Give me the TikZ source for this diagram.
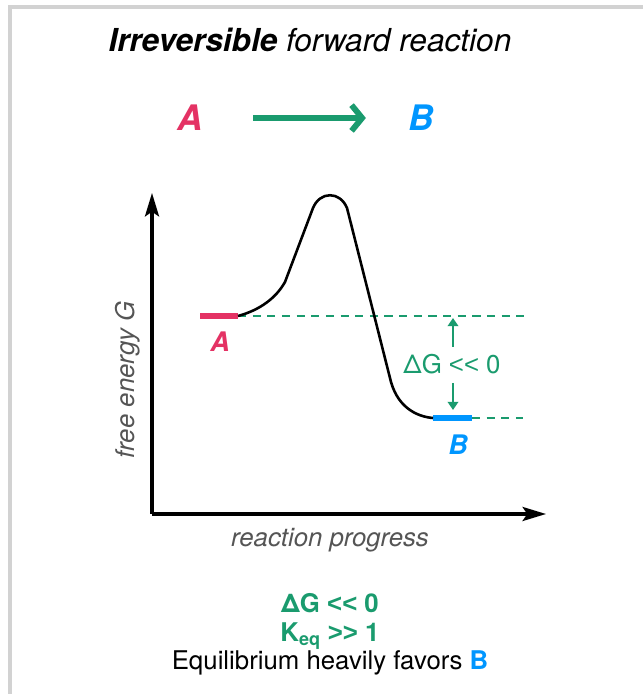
\documentclass[tikz,border=0pt]{standalone}
\usepackage{fontspec}
\setmainfont{TeX Gyre Heros}[Ligatures=TeXOff]
\newfontfamily\symfont{Liberation Sans}[Ligatures=TeXOff]
\newcommand{\muchless}{{\symfont<<}}
\newcommand{\muchmore}{{\symfont>>}}
\usetikzlibrary{arrows.meta}
\definecolor{rxnA}{RGB}{228,50,100}
\definecolor{rxnB}{RGB}{0,150,255}
\definecolor{rxngreen}{RGB}{26,155,110}
\definecolor{axisgray}{RGB}{85,85,85}
\definecolor{framegray}{RGB}{210,210,210}
\tikzset{
  big/.style={font=\fontsize{22}{26}\selectfont, inner sep=0pt},
  axislabel/.style={font=\fontsize{22}{26}\selectfont\itshape, text=axisgray, inner sep=0pt},
  species/.style={font=\fontsize{30}{34}\selectfont\bfseries\itshape, inner sep=0pt},
  levellabel/.style={font=\fontsize{23}{27}\selectfont\bfseries\itshape, inner sep=0pt},
  axis/.style={line width=2.6pt, -{Stealth[length=20pt, width=12pt, inset=4pt]}},
  level/.style={line width=4.5pt},
  guide/.style={rxngreen, line width=2pt, dash pattern=on 7pt off 5.5pt},
  dgarrow/.style={rxngreen, line width=2pt, -{Triangle[length=7pt, width=9pt]}},
  fwdarrow/.style={rxngreen, line width=5pt, -{Straight Barb[length=9pt, width=22pt, line width=5pt]}}
}

\begin{document}
\begin{tikzpicture}[x=0.03cm,y=0.03cm]
\useasboundingbox (0,0) rectangle (643,694);
\draw[framegray, line width=3.5pt] (10,0) -- (10,687) -- (643,687);

\node[big, font=\fontsize{27}{32}\selectfont] (title) at (310,654) {\textbf{\textit{Irreversible}} \textit{forward reaction}};

% reaction
\node[species, text=rxnA] (rA) at (190,576) {A};
\node[species, text=rxnB] (rB) at (421,576) {B};
\draw[fwdarrow, shorten <=43pt, shorten >=36pt] (rA) -- (rB);

% axes
\coordinate (O) at (152,180);
\draw[axis] (O) -- (152,501);
\draw[axis] (O) -- (546,180);
\node[axislabel, rotate=90] (ylab) at (128,314) {free energy G};
\node[axislabel] (xlab) at (330,154) {reaction progress};

% energy levels
\coordinate (Al) at (200,378);
\coordinate (Ar) at (238,378);
\coordinate (Bl) at (433,276);
\coordinate (Br) at (472,276);
\draw[guide] (Ar) -- (525,378);
\draw[guide] (Br) -- (523,276);
\draw[rxnA, level] (Al) -- (Ar);
\draw[rxnB, level] (Bl) -- (Br);
\node[levellabel, text=rxnA] (lA) at (220,352) {A};
\node[levellabel, text=rxnB] (lB) at (458,249) {B};

\draw[line width=2.2pt, line join=round] (Ar) .. controls (260,384) and (276,396) .. (285,412)
  -- (313,486) .. controls (320,503) and (340,503) .. (347,486)
  -- (391,312) .. controls (399,284) and (420,277) .. (Bl);

% free energy difference
\node[big, text=rxngreen] (dG) at (452,330) {ΔG \muchless{} 0};
\draw[dgarrow] (453,347) -- (453,376);
\draw[dgarrow] (453,311) -- (453,284);

% summary
\node[big, text=rxngreen, font=\fontsize{22}{26}\selectfont\bfseries] (dGsum) at (330,91) {ΔG \muchless{} 0};
\node[big, text=rxngreen, font=\fontsize{22}{26}\selectfont\bfseries] (Keq) at (330,58) {K\textsubscript{eq} \muchmore{} 1};
\node[big] (fav) at (330,31) {Equilibrium heavily favors \textbf{\textcolor{rxnB}{B}}};
\end{tikzpicture}
\end{document}
